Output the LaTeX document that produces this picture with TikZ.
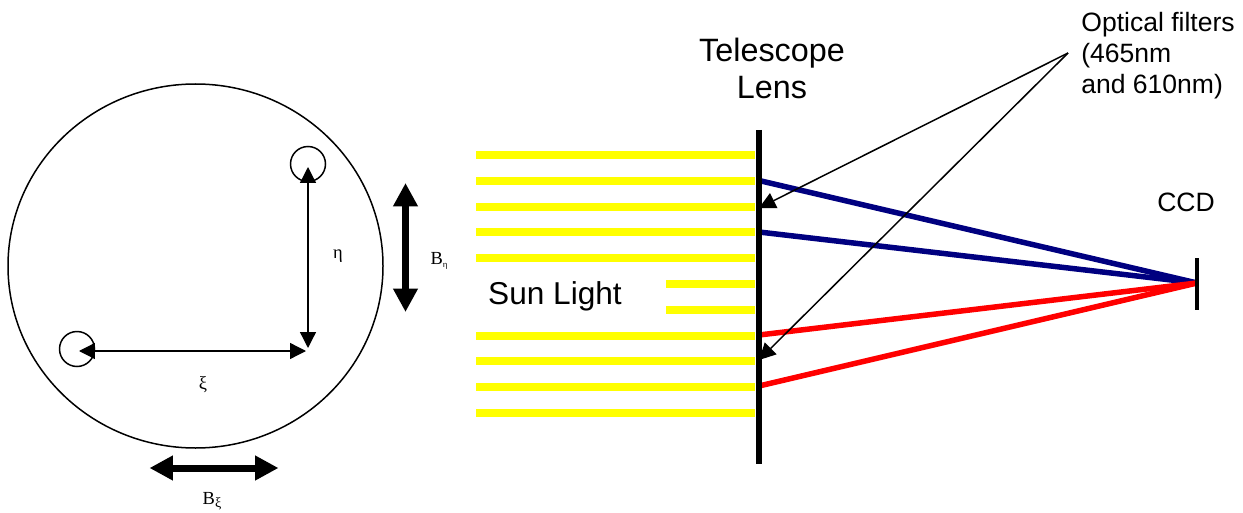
\documentclass[tikz,border=0pt]{standalone}
\usepackage{fontspec}
\setmainfont{Liberation Sans}
\newfontfamily\serifgreek{Liberation Serif}
\usetikzlibrary{arrows.meta,positioning}
\definecolor{beamyellow}{RGB}{255,255,0}
\definecolor{raynavy}{RGB}{0,0,128}
\definecolor{rayred}{RGB}{255,0,0}

\begin{document}
\begin{tikzpicture}[
    x=0.02cm, y=-0.02cm,
    outline/.style={draw, line width=0.03cm},
    hole/.style={draw, line width=0.03cm, circle, minimum size=0.7cm, inner sep=0pt},
    baseline arrow/.style={<->, >={Triangle[length=0.32cm,width=0.32cm]}, line width=0.026cm},
    resolution/.style={<->, >={Triangle[length=0.47cm,width=0.47cm]}, line width=0.14cm},
    beam/.style={beamyellow, line width=0.16cm},
    blue ray/.style={raynavy, line width=0.11cm},
    red ray/.style={rayred, line width=0.11cm},
    pointer/.style={->, >={Triangle[length=0.33cm,width=0.33cm]}, line width=0.03cm},
    big label/.style={align=center, inner sep=0pt, font=\fontsize{18.4}{21}\selectfont},
    small label/.style={align=left, inner sep=0pt, font=\fontsize{15.1}{17.6}\selectfont},
    greek label/.style={inner sep=0pt, font=\serifgreek\fontsize{10.5}{12}\selectfont}
]
\useasboundingbox (0,0) rectangle (1243,513);

% Aperture with the two holes
\draw[outline] (195.5,266) ellipse [x radius=187.5, y radius=182];
\node[hole] (top hole) at (308,164) {};
\node[hole] (left hole) at (77,349) {};
\coordinate (eta top) at (308,167);
\coordinate (eta foot) at (308,348);
\coordinate (xi left) at (79,351);
\coordinate (xi right) at (306,351);
\draw[baseline arrow] (eta top) -- (eta foot);
\draw[baseline arrow] (xi left) -- (xi right);
\node[greek label] (eta) at (338,256) {η};
\node[greek label] (xi) at (203,385) {ξ};

% Resolution arrows
\coordinate (b eta top) at (405.5,183);
\coordinate (b eta foot) at (405.5,312);
\coordinate (b xi left) at (149.5,468);
\coordinate (b xi right) at (278.5,468);
\draw[resolution] (b eta top) -- (b eta foot);
\draw[resolution] (b xi left) -- (b xi right);
\node[greek label] (b eta) at (439,261) {B\raisebox{-0.3ex}{\fontsize{5}{6}\selectfont η}};
\node[greek label] (b xi) at (212,501) {B\raisebox{-0.4ex}{\fontsize{8}{9}\selectfont ξ}};

% Incoming light
\draw[beam] (476,155) -- (755,155);
\draw[beam] (476,181) -- (755,181);
\draw[beam] (476,207) -- (755,207);
\draw[beam] (476,232) -- (755,232);
\draw[beam] (476,258) -- (755,258);
\draw[beam] (666,284) -- (755,284);
\draw[beam] (666,310) -- (755,310);
\draw[beam] (476,335.5) -- (755,335.5);
\draw[beam] (476,361) -- (755,361);
\draw[beam] (476,387) -- (755,387);
\draw[beam] (476,413) -- (755,413);
\node[big label, font=\fontsize{18}{21}\selectfont] (sun) at (555,296) {Sun Light};

% Rays to the detector
\coordinate (focus) at (1197,283);
\coordinate (lens a) at (759,180.5);
\coordinate (lens b) at (759,232);
\coordinate (lens c) at (759,335);
\coordinate (lens d) at (759,386);
\draw[blue ray] (lens a) -- (focus);
\draw[blue ray] (lens b) -- (focus);
\draw[red ray] (lens c) -- (focus);
\draw[red ray] (lens d) -- (focus);

% Lens and detector
\coordinate (lens top) at (759,130);
\coordinate (lens foot) at (759,464);
\coordinate (ccd top) at (1197,258);
\coordinate (ccd foot) at (1197,310);
\draw[line width=0.12cm] (lens top) -- (lens foot);
\draw[line width=0.09cm] (ccd top) -- (ccd foot);
\node[big label] (lens) at (772,68.5) {Telescope\\Lens};
\node[small label] (ccd) at (1186,202) {CCD};

% Filter label
\node[small label, anchor=west] (filters) at (1081,56) {Optical filters\\(465nm\\and 610nm)};
\coordinate (apex) at (1068,53);
\coordinate (filter a) at (759,208);
\coordinate (filter b) at (759,360);
\draw[pointer] (apex) -- (filter a);
\draw[pointer] (apex) -- (filter b);

\end{tikzpicture}
\end{document}
